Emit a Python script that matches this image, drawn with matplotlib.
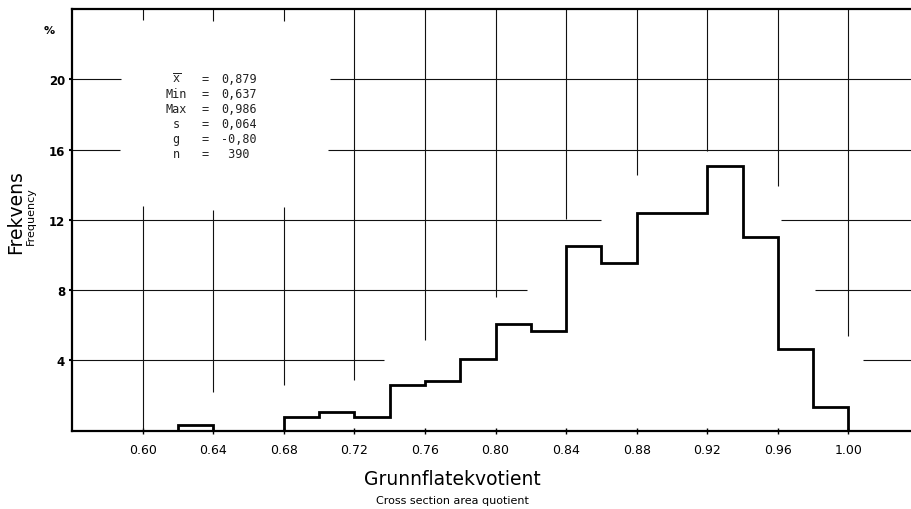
import numpy as np
import matplotlib
matplotlib.use('Agg')
import matplotlib.pyplot as plt

# Histogram of the cross section area quotient, class width 0.02
bin_left = [0.62, 0.64, 0.66, 0.68, 0.70, 0.72, 0.74, 0.76, 0.78, 0.80,
            0.82, 0.84, 0.86, 0.88, 0.90, 0.92, 0.94, 0.96, 0.98]
freq_pct = [0.3, 0.0, 0.0, 0.77, 1.05, 0.77, 2.6, 2.85, 4.1, 6.05,
            5.65, 10.5, 9.55, 12.4, 12.4, 15.05, 11.0, 4.65, 1.35]
bin_width = 0.02

x_ticks = [0.60, 0.64, 0.68, 0.72, 0.76, 0.80, 0.84, 0.88, 0.92, 0.96, 1.00]
x_tick_labels = ['0.60', '0.64', '0.68', '0.72', '0.76', '0.80',
                 '0.84', '0.88', '0.92', '0.96', '1.00']
y_ticks = [4, 8, 12, 16, 20]

stat_names = [r'$\overline{\mathtt{x}}$', 'Min', 'Max', 's', 'g', 'n']
stat_values = ['0,879', '0,637', '0,986', '0,064', '-0,80', ' 390']

XMIN, XMAX = 0.56, 1.036
YMIN, YMAX = 0, 24

fig = plt.figure(figsize=(9.12, 5.1), dpi=100)
ax = fig.add_axes([72 / 912, 1 - 431.7 / 510, 1 - 72 / 912, (431.7 - 10) / 510])
ax.set_xlim(XMIN, XMAX)
ax.set_ylim(YMIN, YMAX)

# broken grid, left open around the statistics block and the histogram
h_grid = {
    20: [(XMIN, 0.588), (0.706, XMAX)],
    16: [(XMIN, 0.587), (0.705, XMAX)],
    12: [(XMIN, 0.860), (0.962, XMAX)],
    8: [(XMIN, 0.818), (0.981, XMAX)],
    4: [(XMIN, 0.737), (1.008, XMAX)],
}
v_grid = {
    0.60: [(0, 12.78), (23.4, YMAX)],
    0.64: [(2.2, 12.55), (23.3, YMAX)],
    0.68: [(2.6, 12.72), (23.3, YMAX)],
    0.72: [(2.88, YMAX)],
    0.76: [(5.16, YMAX)],
    0.80: [(7.6, YMAX)],
    0.84: [(12.04, YMAX)],
    0.88: [(14.55, YMAX)],
    0.92: [(15.9, YMAX)],
    0.96: [(13.9, YMAX)],
    1.00: [(5.38, YMAX)],
}
for y, segs in h_grid.items():
    for a, b in segs:
        ax.plot([a, b], [y, y], color='#111111', lw=0.8, solid_capstyle='butt')
for x, segs in v_grid.items():
    for a, b in segs:
        ax.plot([x, x], [a, b], color='#111111', lw=0.8, solid_capstyle='butt')

# step outline of the histogram
edges = np.array(bin_left + [bin_left[-1] + bin_width])
heights = np.array(freq_pct)
ax.stairs(heights, edges, color='black', lw=2.0, baseline=0)

ax.spines['right'].set_visible(False)
for s in ['left', 'top', 'bottom']:
    ax.spines[s].set_linewidth(1.6)

ax.set_xticks(x_ticks)
ax.set_xticklabels(x_tick_labels, fontsize=9)
ax.set_yticks(y_ticks)
ax.set_yticklabels([str(v) for v in y_ticks], fontsize=8.5, fontweight='bold')
ax.tick_params(axis='x', direction='inout', length=5, width=1, pad=6)
ax.tick_params(axis='y', direction='out', length=2, width=1.5, pad=3)

ax.text(-0.027, 0.95, '%', transform=ax.transAxes, fontsize=8,
        fontweight='bold', ha='center', va='center')

# summary statistics
row_y = [20.05, 19.2, 18.35, 17.5, 16.65, 15.8]
for name, val, y in zip(stat_names, stat_values, row_y):
    ax.text(0.619, y, name, family='DejaVu Sans Mono', fontsize=8.5,
            ha='center', va='center', color='#222222')
    ax.text(0.6355, y, '=', family='DejaVu Sans Mono', fontsize=8.5,
            ha='center', va='center', color='#222222')
    ax.text(0.6445, y, val, family='DejaVu Sans Mono', fontsize=8.5,
            ha='left', va='center', color='#222222')

fig.text(16 / 912, 1 - 212 / 510, 'Frekvens', rotation=90, fontsize=13.5,
         ha='center', va='center')
fig.text(31 / 912, 1 - 216 / 510, 'Frequency', rotation=90, fontsize=8,
         ha='center', va='center')
fig.text(452 / 912, 1 - 480 / 510, 'Grunnflatekvotient', fontsize=13.5,
         ha='center', va='center')
fig.text(452 / 912, 1 - 501 / 510, 'Cross section area quotient', fontsize=8,
         ha='center', va='center')

fig.savefig('out.png', dpi=100)
